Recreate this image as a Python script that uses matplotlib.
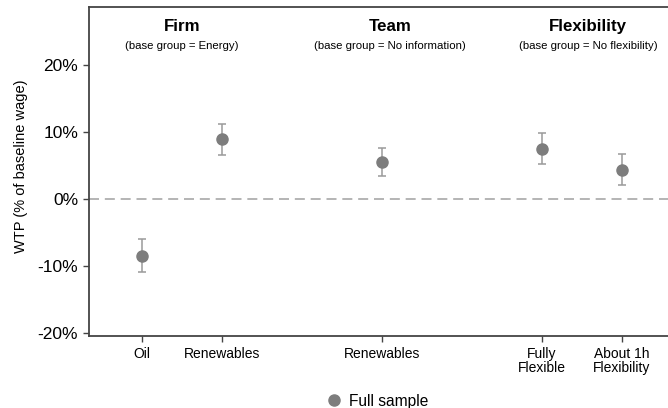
import matplotlib
matplotlib.use("Agg")
import matplotlib.pyplot as plt
from matplotlib.lines import Line2D

plt.rcParams['font.family'] = ['Liberation Sans', 'DejaVu Sans']

# Estimated willingness-to-pay (percent of baseline wage) with 95% CIs
labels = ["Oil", "Renewables", "Renewables", "Fully\nFlexible", "About 1h\nFlexibility"]
positions = [1, 2, 4, 6, 7]
estimates = [-8.5, 8.9, 5.4, 7.4, 4.3]
ci_low = [-10.9, 6.5, 3.4, 5.1, 2.1]
ci_high = [-6.0, 11.1, 7.5, 9.8, 6.6]

group_names = ["Firm", "Team", "Flexibility"]
group_notes = ["(base group = Energy)", "(base group = No information)",
               "(base group = No flexibility)"]
group_centers = [1.5, 4.1, 6.58]

yticks = [-20, -10, 0, 10, 20]

fig = plt.figure(figsize=(6.68, 4.08), dpi=100)
ax = fig.add_axes([0.1325, 0.1765, 0.8675, 0.8065])

ax.axhline(0, color="#a8a8a8", lw=1.2, dashes=(6, 3.5), zorder=1)

yerr = [[e - l for e, l in zip(estimates, ci_low)],
        [h - e for e, h in zip(estimates, ci_high)]]
ax.errorbar(positions, estimates, yerr=yerr, fmt="none", ecolor="#9a9a9a",
            elinewidth=1.1, capsize=3.2, capthick=1.1, zorder=2)
ax.plot(positions, estimates, "o", color="#7d7d7d", markersize=8, zorder=3)

ax.set_xlim(0.335, 7.58)
ax.set_ylim(-20.5, 28.6)
ax.set_yticks(yticks)
ax.set_yticklabels([f"{v}%" for v in yticks], fontsize=12.5)
ax.set_xticks(positions)
ax.set_xticklabels(labels, fontsize=10, linespacing=1.0)
ax.tick_params(axis="both", direction="out", length=4, width=1, color="#444444")
ax.tick_params(axis="x", pad=4)

for side in ["left", "bottom", "top"]:
    ax.spines[side].set_color("#444444")
    ax.spines[side].set_linewidth(1.3)
ax.spines["right"].set_visible(False)

ax.set_ylabel("WTP (% of baseline wage)", fontsize=10.5, labelpad=8)
ax.yaxis.set_label_coords(-0.105, 0.515)

for name, note, xc in zip(group_names, group_notes, group_centers):
    ax.text(xc, 25.7, name, ha="center", va="center", fontsize=12.2,
            fontweight="bold")
    ax.text(xc, 22.7, note, ha="center", va="center", fontsize=8.2)

handle = Line2D([], [], marker="o", color="#7d7d7d", linestyle="none",
                markersize=8)
fig.legend([handle], ["Full sample"], loc="center",
           bbox_to_anchor=(0.564, 0.017), frameon=False, fontsize=11.2,
           handlelength=1.2, handletextpad=0.38, borderaxespad=0)

fig.savefig("out.png", dpi=100)
